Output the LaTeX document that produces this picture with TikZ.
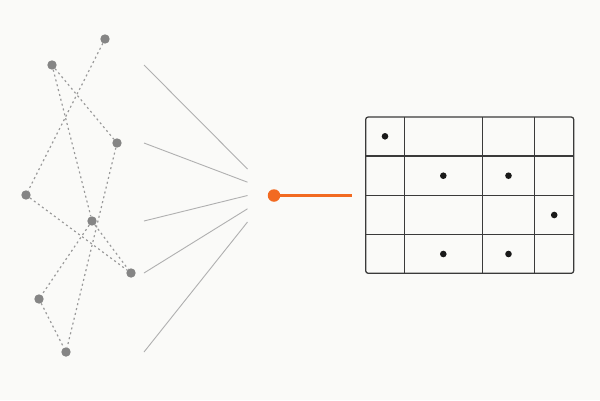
\documentclass[tikz,border=0pt]{standalone}
\usepackage{tikz}
\definecolor{bg}{HTML}{FAFAF8}
\definecolor{nodegray}{HTML}{858585}
\definecolor{dashgray}{HTML}{999999}
\definecolor{fangray}{HTML}{B0B0B0}
\definecolor{orng}{HTML}{F26A21}
\definecolor{gridc}{HTML}{3A3A3A}
\tikzset{
  gnode/.style={circle,fill=nodegray,inner sep=0pt,minimum size=9.4pt},
  dedge/.style={draw=dashgray,line width=1.2pt,dash pattern=on 2pt off 3pt},
  fanline/.style={draw=fangray,line width=0.9pt},
  onode/.style={circle,fill=orng,inner sep=0pt,minimum size=12.5pt},
  oline/.style={draw=orng,line width=2.4pt},
  bdot/.style={circle,fill=black!90,inner sep=0pt,minimum size=6.6pt},
  gridline/.style={draw=gridc,line width=1.25pt},
}
\begin{document}
\begin{tikzpicture}[x=1pt,y=-1pt]
\useasboundingbox[fill=bg] (0,0) rectangle (600,400);
% left graph nodes
\node[gnode] (A) at (105,39) {};
\node[gnode] (B) at (52,65) {};
\node[gnode] (C) at (117,143) {};
\node[gnode] (D) at (26,195) {};
\node[gnode] (E) at (92,221) {};
\node[gnode] (F) at (131,273) {};
\node[gnode] (G) at (39,299) {};
\node[gnode] (H) at (66,352) {};
% dashed edges
\draw[dedge] (A) -- (D);
\draw[dedge] (B) -- (C);
\draw[dedge] (B) -- (E);
\draw[dedge] (C) -- (H);
\draw[dedge] (D) -- (F);
\draw[dedge] (E) -- (F);
\draw[dedge] (E) -- (G);
\draw[dedge] (G) -- (H);
% fan lines
\coordinate (s1) at (144,65);
\coordinate (s2) at (144,143);
\coordinate (s3) at (144,221);
\coordinate (s4) at (144,273);
\coordinate (s5) at (144,352);
\coordinate (e1) at (247.5,169);
\coordinate (e2) at (247.5,182.2);
\coordinate (e3) at (247.5,195.5);
\coordinate (e4) at (247.5,208.8);
\coordinate (e5) at (247.5,222);
\draw[fanline] (s1) -- (e1);
\draw[fanline] (s2) -- (e2);
\draw[fanline] (s3) -- (e3);
\draw[fanline] (s4) -- (e4);
\draw[fanline] (s5) -- (e5);
% orange node and line
\node[onode] (O) at (274,195.5) {};
\coordinate (oend) at (352,195.5);
\draw[oline] (O) -- (oend);
% table
\draw[gridline,rounded corners=2.5pt] (365.7,117) rectangle (573.7,273.3);
\draw[gridline] (404.3,117) -- (404.3,273.3);
\draw[gridline] (482.3,117) -- (482.3,273.3);
\draw[gridline] (534.7,117) -- (534.7,273.3);
\draw[gridline] (365.7,156) -- (573.7,156);
\draw[gridline] (365.7,195.3) -- (573.7,195.3);
\draw[gridline] (365.7,234.3) -- (573.7,234.3);
% dots
\node[bdot] (d1) at (385,136.3) {};
\node[bdot] (d2) at (443.3,175.7) {};
\node[bdot] (d3) at (508.5,175.7) {};
\node[bdot] (d4) at (554.2,215) {};
\node[bdot] (d5) at (443.3,254) {};
\node[bdot] (d6) at (508.5,254) {};
\end{tikzpicture}
\end{document}
